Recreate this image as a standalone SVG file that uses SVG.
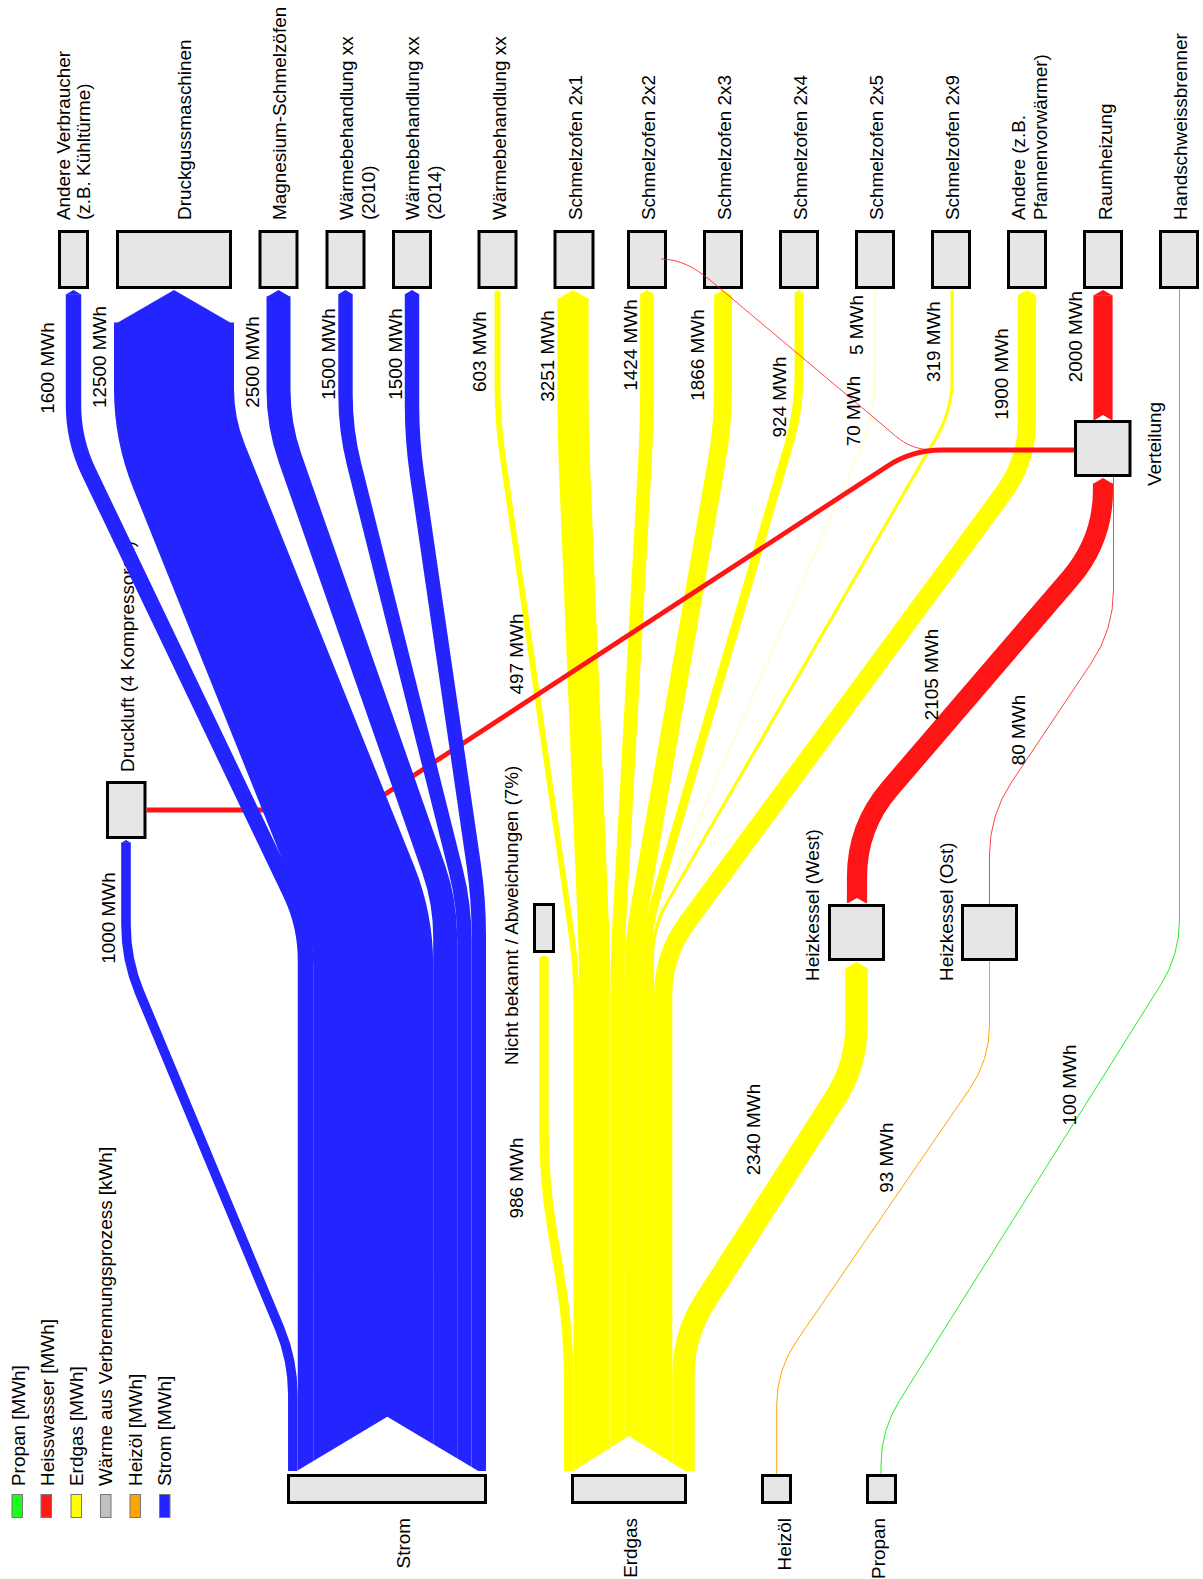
<svg xmlns="http://www.w3.org/2000/svg" width="1203" height="1579" viewBox="0 0 1203 1579">
<style>
text{font-family:"Liberation Sans",Arial,sans-serif;font-size:18.9px;fill:#000}
.n{fill:#e6e6e6;stroke:#000;stroke-width:3}
.m{text-anchor:middle}
.e{text-anchor:end}
.b{fill:none;stroke:#2424ff}
.y{fill:none;stroke:#ffff00}
.r{fill:none;stroke:#ff1515}
.o{fill:none;stroke:#ffa500}
.g{fill:none;stroke:#22ee22}
.sw{stroke:#777;stroke-width:1}
</style>
<defs>
<marker id="tipB" markerUnits="strokeWidth" orient="auto" refX="0" refY="0" markerWidth="1" markerHeight="1" overflow="visible"><path d="M-0.02,-0.5 L0.27,0 L-0.02,0.5 Z" fill="#2424ff"/></marker>
<marker id="tipY" markerUnits="strokeWidth" orient="auto" refX="0" refY="0" markerWidth="1" markerHeight="1" overflow="visible"><path d="M-0.02,-0.5 L0.27,0 L-0.02,0.5 Z" fill="#ffff00"/></marker>
<marker id="tipR" markerUnits="strokeWidth" orient="auto" refX="0" refY="0" markerWidth="1" markerHeight="1" overflow="visible"><path d="M-0.02,-0.5 L0.27,0 L-0.02,0.5 Z" fill="#ff1515"/></marker>
<clipPath id="notch"><path clip-rule="evenodd" d="M0 0H1203V1579H0Z M295 1472 L387.3 1416.7 L480 1472Z M571.7 1472 L629 1436 L686.7 1472Z M846.5 904 L857 898 L867.5 904Z M1093 421 L1103 415 L1113 421Z"/></clipPath>
</defs>

<g id="nodes">
<g id="n-andere-verbraucher"><rect class="n" x="59.5" y="231.5" width="28" height="56"/><text transform="translate(70.4,220) rotate(-90)">Andere Verbraucher</text><text transform="translate(90.4,220) rotate(-90)">(z.B. Kühltürme)</text></g>
<g id="n-druckguss"><rect class="n" x="117.5" y="231.5" width="113" height="56"/><text transform="translate(191.2,220) rotate(-90)">Druckgussmaschinen</text></g>
<g id="n-magnesium"><rect class="n" x="260" y="231.5" width="37" height="56"/><text transform="translate(285.8,220) rotate(-90)">Magnesium-Schmelzöfen</text></g>
<g id="n-wb2010"><rect class="n" x="327" y="231.5" width="37" height="56"/><text transform="translate(353.1,220) rotate(-90)">Wärmebehandlung xx</text><text transform="translate(375,220) rotate(-90)">(2010)</text></g>
<g id="n-wb2014"><rect class="n" x="393.5" y="231.5" width="37" height="56"/><text transform="translate(419.3,220) rotate(-90)">Wärmebehandlung xx</text><text transform="translate(441.2,220) rotate(-90)">(2014)</text></g>
<g id="n-wbxx"><rect class="n" x="479" y="231.5" width="37" height="56"/><text transform="translate(505.8,220) rotate(-90)">Wärmebehandlung xx</text></g>
<g id="n-s2x1"><rect class="n" x="555" y="231.5" width="38" height="56"/><text transform="translate(582,220) rotate(-90)">Schmelzofen 2x1</text></g>
<g id="n-s2x2"><rect class="n" x="628.5" y="231.5" width="37" height="56"/><text transform="translate(655,220) rotate(-90)">Schmelzofen 2x2</text></g>
<g id="n-s2x3"><rect class="n" x="704.5" y="231.5" width="37" height="56"/><text transform="translate(730.8,220) rotate(-90)">Schmelzofen 2x3</text></g>
<g id="n-s2x4"><rect class="n" x="780.5" y="231.5" width="37" height="56"/><text transform="translate(807,220) rotate(-90)">Schmelzofen 2x4</text></g>
<g id="n-s2x5"><rect class="n" x="856.5" y="231.5" width="37" height="56"/><text transform="translate(882.7,220) rotate(-90)">Schmelzofen 2x5</text></g>
<g id="n-s2x9"><rect class="n" x="932.5" y="231.5" width="37" height="56"/><text transform="translate(958.9,220) rotate(-90)">Schmelzofen 2x9</text></g>
<g id="n-andere"><rect class="n" x="1008.5" y="231.5" width="37" height="56"/><text transform="translate(1025,220) rotate(-90)">Andere (z.B.</text><text transform="translate(1047.3,220) rotate(-90)">Pfannenvorwärmer)</text></g>
<g id="n-raumheizung"><rect class="n" x="1084.5" y="231.5" width="37" height="56"/><text transform="translate(1111.5,220) rotate(-90)">Raumheizung</text></g>
<g id="n-handschweiss"><rect class="n" x="1160.5" y="231.5" width="37" height="56"/><text transform="translate(1187.3,220) rotate(-90)">Handschweissbrenner</text></g>
<g id="n-druckluft"><rect class="n" x="107.5" y="782.5" width="37.5" height="55"/><text transform="translate(134,772) rotate(-90)">Druckluft (4 Kompressoren)</text></g>
<g id="n-nicht-bekannt"><rect class="n" x="534.5" y="904.5" width="19" height="47"/><text transform="translate(518,1065) rotate(-90)">Nicht bekannt / Abweichungen (7%)</text></g>
<g id="n-heizkessel-west"><rect class="n" x="829.5" y="905.5" width="54" height="54"/><text transform="translate(818.5,981) rotate(-90)">Heizkessel (West)</text></g>
<g id="n-heizkessel-ost"><rect class="n" x="962.5" y="905.5" width="54" height="54"/><text transform="translate(953,981) rotate(-90)">Heizkessel (Ost)</text></g>
<g id="n-verteilung"><rect class="n" x="1075.5" y="421.5" width="54.5" height="54"/><text transform="translate(1160.5,486) rotate(-90)">Verteilung</text></g>
<g id="n-strom"><rect class="n" x="288.5" y="1475.5" width="197" height="27"/><text class="e" transform="translate(410,1518) rotate(-90)">Strom</text></g>
<g id="n-erdgas"><rect class="n" x="572.5" y="1475.5" width="113" height="27"/><text class="e" transform="translate(637,1518) rotate(-90)">Erdgas</text></g>
<g id="n-heizoel"><rect class="n" x="762.5" y="1475.5" width="28" height="27"/><text class="e" transform="translate(790.7,1518) rotate(-90)">Heizöl</text></g>
<g id="n-propan"><rect class="n" x="867.5" y="1475.5" width="28" height="27"/><text class="e" transform="translate(884.5,1518) rotate(-90)">Propan</text></g>
</g>

<g id="connectors" clip-path="url(#notch)">
<g id="erdgas-links">
<path class="y" stroke-width="9.47" marker-end="url(#tipY)" d="M568.7 1471V1380Q568.7 1330 560.6 1280.7L552.1 1229.3Q544 1180 544 1130V957.6"/>
<path class="y" stroke-width="5.79" marker-end="url(#tipY)" d="M576.4 1471V1003Q576.4 968 571.4 933.4L502.5 454.6Q497.5 420 497.5 385V291.6"/>
<path class="y" stroke-width="31.21" marker-end="url(#tipY)" d="M594.9 1471V1000Q594.9 965 593.5 930L574.4 465Q573 430 573 395V298.4"/>
<path class="y" stroke-width="13.67" marker-end="url(#tipY)" d="M617.3 1471V995Q617.3 960 619.2 925.1L645.1 459.9Q647 425 647 390V293.7"/>
<path class="y" stroke-width="17.91" marker-end="url(#tipY)" d="M633.1 1471V980Q633.1 945 639.1 910.5L717 459.5Q723 425 723 390V294.8"/>
<path class="y" stroke-width="8.87" marker-end="url(#tipY)" d="M646.5 1471V965Q646.5 930 656.35 896.4L789.15 443.6Q799 410 799 375V292.4"/>
<path class="y" stroke-width="0.35" d="M650.95 1471V965Q650.95 930 664.9 897.9L861 447.1Q875 415 875 380V290"/>
<path class="y" stroke-width="3.06" marker-end="url(#tipY)" d="M652.5 1471V958Q652.5 928 667.5 902L937 436Q952 410 952 380V290.8"/>
<path class="y" stroke-width="18.24" marker-end="url(#tipY)" d="M663.2 1471V995Q663.2 955 686.9 922.8L1003.3 493.2Q1027 461 1027 421V294.9"/>
<path class="y" stroke-width="22.46" marker-end="url(#tipY)" d="M683.5 1471V1375Q683.5 1335 705.1 1301.3L834.9 1098.7Q856.5 1065 856.5 1025V968.1"/>
</g>
<g id="heizoel-links"><path class="o" stroke-width="1" d="M776.7 1474V1405Q776.7 1370 796.5 1341.1L969.7 1088.9Q989.5 1060 989.5 1025V961"/></g>
<g id="propan-links"><path class="g" stroke-width="1" d="M881 1474V1465Q881 1430 899.6 1400.4L1160.9 984.6Q1179.5 955 1179.5 920V289"/></g>
<g id="heisswasser-links">
<path class="r" stroke-width="20.2" marker-end="url(#tipR)" d="M857 903V877Q857 827 889.5 789L1070.5 578Q1103 540 1103 490V483.5"/>
<path class="r" stroke-width="19.2" marker-end="url(#tipR)" d="M1103 420V295.2"/>
<path class="r" stroke-width="0.8" d="M989.5 904V855Q989.5 815 1011.8 781.8L1091.2 663.2Q1113.5 630 1113.5 590V477"/>
<path class="r" stroke-width="4.77" d="M146.5 810H331Q361 810 386.1 793.6L886.9 466.4Q912 450 942 450H1074"/>
<path class="r" stroke-width="0.8" d="M661 259C680 259 695 268 710 280L885 427C900 440 910 450 935 450H1074"/>
</g>
<g id="strom-links">
<path class="b" stroke-width="9.6" marker-end="url(#tipB)" d="M292.85 1471V1395Q292.85 1360 279.35 1327.7L139.5 992.3Q126 960 126 925V842.6"/>
<path class="b" stroke-width="15.4" marker-end="url(#tipB)" d="M305.45 1471V960Q305.45 925 290.35 893.4L88.6 471.6Q73.5 440 73.5 405V294.2"/>
<path class="b" stroke-width="120" marker-end="url(#tipB)" d="M373.2 1471V965Q373.2 925 358.3 887.9L188.9 466.1Q174 429 174 389V322.4"/>
<path class="b" stroke-width="24" marker-end="url(#tipB)" d="M445.2 1471V937Q445.2 902 433.7 869L290 458Q278.5 425 278.5 390V296.5"/>
<path class="b" stroke-width="14.4" marker-end="url(#tipB)" d="M464.4 1471V940Q464.4 905 455.9 871L354 464Q345.5 430 345.5 395V293.9"/>
<path class="b" stroke-width="14.4" marker-end="url(#tipB)" d="M478.8 1471V935Q478.8 900 473.8 865.4L417 474.6Q412 440 412 405V293.9"/>
</g>
</g>

<g id="link-labels">
<text class="m" transform="translate(53.8,368) rotate(-90)">1600 MWh</text>
<text class="m" transform="translate(105.7,357) rotate(-90)">12500 MWh</text>
<text class="m" transform="translate(258.8,362) rotate(-90)">2500 MWh</text>
<text class="m" transform="translate(334.5,354) rotate(-90)">1500 MWh</text>
<text class="m" transform="translate(402,354) rotate(-90)">1500 MWh</text>
<text class="m" transform="translate(485.7,351.7) rotate(-90)">603 MWh</text>
<text class="m" transform="translate(553.8,356) rotate(-90)">3251 MWh</text>
<text class="m" transform="translate(637.2,345) rotate(-90)">1424 MWh</text>
<text class="m" transform="translate(703.8,355) rotate(-90)">1866 MWh</text>
<text class="m" transform="translate(786.4,397) rotate(-90)">924 MWh</text>
<text class="m" transform="translate(859.5,411) rotate(-90)">70 MWh</text>
<text class="m" transform="translate(863.4,325) rotate(-90)">5 MWh</text>
<text class="m" transform="translate(940.4,341.7) rotate(-90)">319 MWh</text>
<text class="m" transform="translate(1007.6,374) rotate(-90)">1900 MWh</text>
<text class="m" transform="translate(1082,336.7) rotate(-90)">2000 MWh</text>
<text class="m" transform="translate(523,654) rotate(-90)">497 MWh</text>
<text class="m" transform="translate(938,674.5) rotate(-90)">2105 MWh</text>
<text class="m" transform="translate(1024.5,730) rotate(-90)">80 MWh</text>
<text class="m" transform="translate(115,918) rotate(-90)">1000 MWh</text>
<text class="m" transform="translate(523,1178) rotate(-90)">986 MWh</text>
<text class="m" transform="translate(759.5,1129.5) rotate(-90)">2340 MWh</text>
<text class="m" transform="translate(892.5,1157.7) rotate(-90)">93 MWh</text>
<text class="m" transform="translate(1075.5,1085) rotate(-90)">100 MWh</text>
</g>

<g id="legend">
<rect class="sw" x="12" y="1494.5" width="10.5" height="23" fill="#1aff1a"/>
<rect class="sw" x="41" y="1494.5" width="10.5" height="23" fill="#ff1a1a"/>
<rect class="sw" x="71" y="1494.5" width="10.5" height="23" fill="#ffff00"/>
<rect class="sw" x="100.5" y="1494.5" width="10.5" height="23" fill="#c0c0c0"/>
<rect class="sw" x="130" y="1494.5" width="10.5" height="23" fill="#ffa500"/>
<rect class="sw" x="159.5" y="1494.5" width="10.5" height="23" fill="#2424ff"/>
<text transform="translate(25.2,1486) rotate(-90)">Propan [MWh]</text>
<text transform="translate(53.5,1486) rotate(-90)">Heisswasser [MWh]</text>
<text transform="translate(82.8,1486) rotate(-90)">Erdgas [MWh]</text>
<text transform="translate(111.8,1486) rotate(-90)">Wärme aus Verbrennungsprozess [kWh]</text>
<text transform="translate(141.8,1486) rotate(-90)">Heizöl [MWh]</text>
<text transform="translate(170.8,1486) rotate(-90)">Strom [MWh]</text>
</g>
</svg>
